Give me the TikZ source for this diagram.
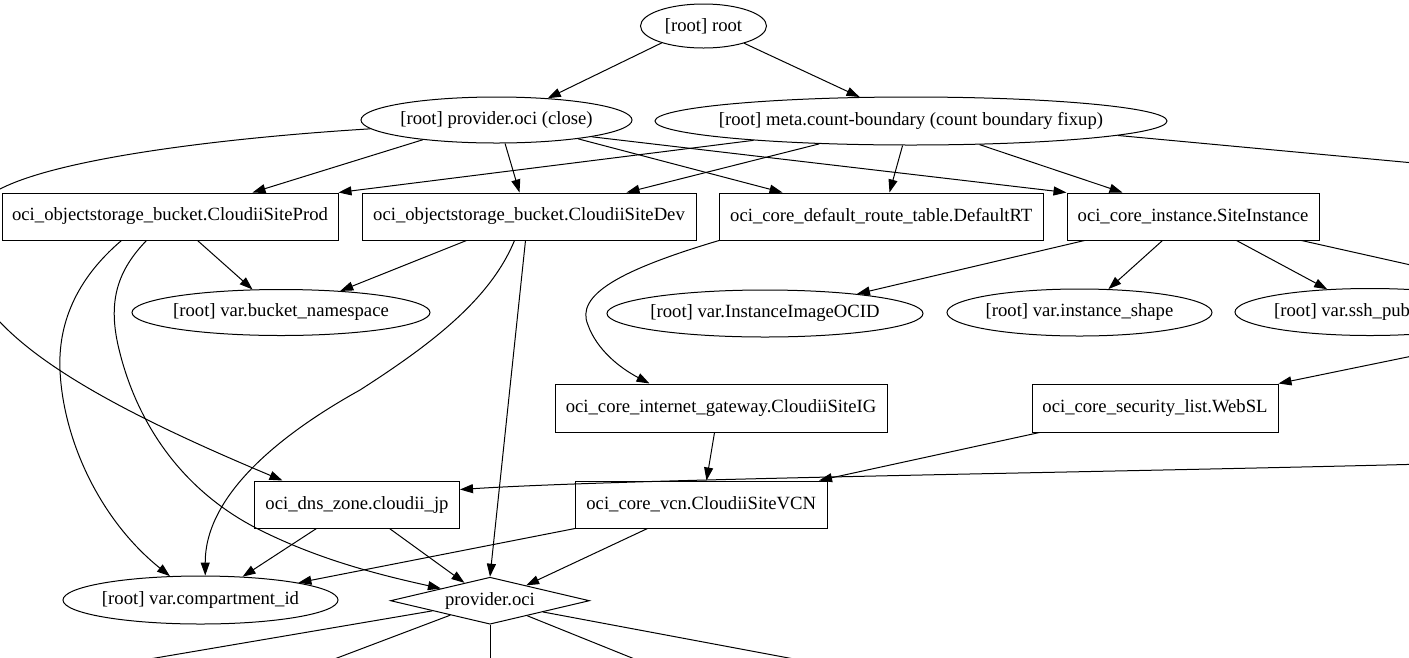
\documentclass[tikz,border=0pt]{standalone}
\usepackage{fontspec}
\setmainfont{Liberation Serif}
\usetikzlibrary{shapes.geometric,arrows.meta,calc}
\tikzset{
  every node/.style={font=\fontsize{18.67pt}{22pt}\selectfont},
  ell/.style={draw, ellipse, inner xsep=-20pt, inner ysep=0pt, line width=1pt},
  box/.style={draw, rectangle, inner sep=0pt, minimum height=47pt, line width=1pt},
  dia/.style={draw, diamond, aspect=4.2, inner sep=0pt, minimum width=199pt, minimum height=47pt, line width=1pt},
  arr/.style={-{Triangle[length=13pt,width=9pt]}, line width=1pt},
  ln/.style={line width=1pt}
}
\begin{document}
\begin{tikzpicture}[x=1pt,y=-1pt]
\useasboundingbox (0,0) rectangle (1409,657);
\fill[white] (0,0) rectangle (1409,657);
\clip (0,0) rectangle (1409,657);

% nodes
\node[ell, minimum width=126pt, minimum height=44pt] (root) at (703.5,26) {[root] root};
\node[ell, minimum width=271pt, minimum height=46pt] (pclose) at (496.5,120) {[root] provider.oci (close)};
\node[ell, minimum width=512pt, minimum height=48pt] (meta) at (911,121) {[root] meta.count-boundary (count boundary fixup)};

\node[box, minimum width=336pt] (prod) at (170,216.5) {oci\_objectstorage\_bucket.CloudiiSiteProd};
\node[box, minimum width=334pt] (dev) at (529,216.5) {oci\_objectstorage\_bucket.CloudiiSiteDev};
\node[box, minimum width=323.5pt] (drt) at (881.25,216.5) {oci\_core\_default\_route\_table.DefaultRT};
\node[box, minimum width=252pt] (inst) at (1193,216.5) {oci\_core\_instance.SiteInstance};

\node[ell, minimum width=298pt, minimum height=46pt] (bns) at (281,312.5) {[root] var.bucket\_namespace};
\node[ell, minimum width=316pt, minimum height=47pt] (img) at (765,313.5) {[root] var.InstanceImageOCID};
\node[ell, minimum width=265pt, minimum height=47pt] (shape) at (1079.5,312.5) {[root] var.instance\_shape};
\node[ell, minimum width=270pt, minimum height=47pt] (ssh) at (1370,312) {};
\node[anchor=west, inner sep=0pt] (sshlbl) at (1274,312) {[root] var.ssh\_pub};

\node[box, minimum width=332pt, minimum height=48pt] (ig) at (721,408) {oci\_core\_internet\_gateway.CloudiiSiteIG};
\node[box, minimum width=246pt, minimum height=48pt] (websl) at (1155,408) {oci\_core\_security\_list.WebSL};

\node[box, minimum width=205pt] (dns) at (357,504.5) {oci\_dns\_zone.cloudii\_jp};
\node[box, minimum width=251.5pt] (vcn) at (701.25,504.5) {oci\_core\_vcn.CloudiiSiteVCN};

\node[ell, minimum width=275pt, minimum height=48pt] (comp) at (200.5,600) {[root] var.compartment\_id};
\node[dia] (poci) at (490,600.7) {provider.oci};

% off-page ends
\coordinate (offA) at (1500,171);
\coordinate (offB) at (1500,285);
\coordinate (offC) at (1500,338);
\coordinate (offD) at (1500,462);
\coordinate (offE1) at (29,679.5);
\coordinate (offE2) at (285.5,677.5);
\coordinate (offE3) at (490,690);
\coordinate (offE4) at (680.5,677.5);
\coordinate (offE5) at (903.5,679.5);

% root
\draw[arr] (root.202.8) -- (pclose.23.4);
\draw[arr] (root.337.7) -- (meta.155.3);

% provider.oci (close)
\draw[arr] (pclose.195.5) -- ($(prod.north west)+(251,0)$);
\draw[arr] (pclose.290.3) -- ($(dev.north west)+(158,0)$);
\draw[arr] (pclose.347.3) -- ($(drt.north west)+(63.5,0)$);
\draw[arr] (pclose.350.5) -- (inst.north west);
\draw[arr] (pclose.184.2) .. controls (220,138) and (40,160) .. (-10,195)
  .. controls (-50,225) and (-30,290) .. (0,322)
  .. controls (50,375) and (150,425) .. ($(dns.north west)+(28.5,0)$);

% meta
\draw[arr] (meta.187.2) -- (prod.north east);
\draw[arr] (meta.194) -- ($(dev.north west)+(265,0)$);
\draw[arr] (meta.251.6) -- ($(drt.north west)+(170.5,0)$);
\draw[arr] (meta.341.5) -- ($(inst.north west)+(56,0)$);
\draw[ln] (meta.356.9) -- (offA);

% prod
\draw[arr] ($(prod.south west)+(196,0)$) -- (bns.141.1);
\draw[arr] ($(prod.south west)+(120,0)$) .. controls (75,280) and (58,325) .. (60,370)
  .. controls (63,440) and (100,520) .. (comp.142.5);
\draw[arr] ($(prod.south west)+(145,0)$) .. controls (118,270) and (108,300) .. (118,345)
  .. controls (135,420) and (180,490) .. (260,530)
  .. controls (320,560) and (380,575) .. (poci.166.8);

% dev
\draw[arr] ($(dev.south west)+(105,0)$) -- (bns.20.4);
\draw[arr] ($(dev.south west)+(153,0)$) .. controls (490,300) and (430,345) .. (360,390)
  .. controls (270,440) and (205,500) .. (comp.79.4);
\draw[arr] ($(dev.south west)+(164,0)$) -- (poci.north);

% default route table
\draw[arr] (drt.south west) .. controls (620,270) and (575,295) .. (588,325)
  .. controls (597,350) and (620,368) .. ($(ig.north west)+(95,0)$);

% instance
\draw[arr] ($(inst.south west)+(18,0)$) -- (img.12.5);
\draw[arr] ($(inst.south west)+(96,0)$) -- (shape.39.9);
\draw[arr] ($(inst.south west)+(170,0)$) -- (ssh.152);
\draw[ln] ($(inst.south west)+(235,0)$) -- (offB);

% from the right
\draw[arr] (offC) -- (websl.north east);
\draw[arr] (offD) .. controls (1150,472) and (640,478) .. ($(dns.north east)+(0,9)$);

% lower
\draw[arr] ($(websl.south west)+(8,0)$) -- ($(vcn.north east)+(-8.5,0)$);
\draw[arr] ($(ig.south west)+(160,0)$) -- ($(vcn.north west)+(131.5,0)$);
\draw[arr] ($(dns.south west)+(62.5,0)$) -- (comp.29.5);
\draw[arr] ($(dns.south west)+(135.5,0)$) -- (poci.145.1);
\draw[arr] (vcn.south west) -- (comp.10.05);
\draw[arr] ($(vcn.south west)+(72.5,0)$) -- (poci.23.6);

% provider.oci outgoing
\draw[ln] (poci.190.8) -- (offE1);
\draw[ln] (poci.200.5) -- (offE2);
\draw[ln] (poci.south) -- (offE3);
\draw[ln] (poci.338.6) -- (offE4);
\draw[ln] (poci.348.4) -- (offE5);
\end{tikzpicture}
\end{document}
